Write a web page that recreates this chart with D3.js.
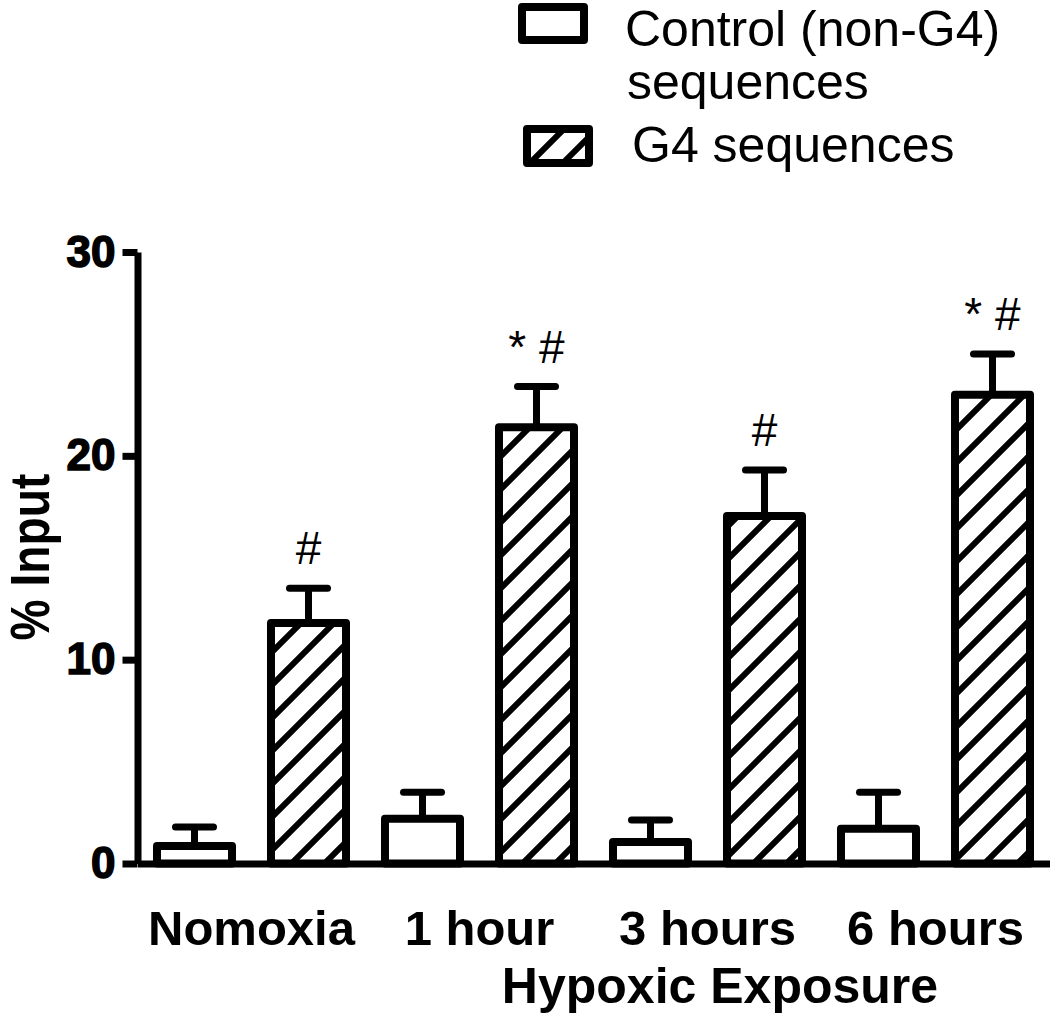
<!DOCTYPE html>
<html>
<head>
<meta charset="utf-8">
<script src="https://cdn.jsdelivr.net/npm/d3@7"></script>
<style>
  body { margin: 0; background: #fff; }
  svg { display: block; }
  text { font-family: "Liberation Sans", Arial, sans-serif; fill: #000; }
</style>
</head>
<body>
<svg id="chart" width="1050" height="1018"></svg>
<script>
// values
const categories = ["Nomoxia", "1 hour", "3 hours", "6 hours"]
const seriesKeys = ["control", "g4"]
const controlMean = [0.86, 2.2, 1.05, 1.7]
const controlErr = [0.93, 1.3, 1.08, 1.8]
const g4Mean = [11.8, 21.4, 17.05, 23.0]
const g4Err = [1.7, 2.0, 2.25, 2.0]
const g4Marks = ["#", "* #", "#", "* #"]
const yTicks = [0, 10, 20, 30]

const svg = d3.select("#chart")
const black = "#000"

// layout
const axisX = 137.5
const baseY = 863.5
const topY = 252

// hatch pattern for the G4 bars
const defs = svg.append("defs")
const pat = defs.append("pattern")
    .attr("id", "hatch")
    .attr("patternUnits", "userSpaceOnUse")
    .attr("width", 33)
    .attr("height", 33)
pat.append("rect").attr("width", 33).attr("height", 33).attr("fill", "#fff")
pat.append("path")
    .attr("d", "M0,33 L33,0 M-8,8 L8,-8 M25,41 L41,25")
    .attr("stroke", black)
    .attr("stroke-width", 6)

// scales
const x0 = d3.scaleBand()
    .domain(categories)
    .range([axisX, axisX + 4 * 228])
    .paddingInner(0)
const x1 = d3.scaleBand()
    .domain(seriesKeys)
    .range([0, x0.bandwidth()])
    .paddingInner(0.342)
    .paddingOuter(0.171)
const y = d3.scaleLinear().domain([0, 30]).range([baseY, topY])

// build rows from the arrays
const rows = []
categories.forEach((c, i) => {
    rows.push({ cat: c, key: "control", mean: controlMean[i], err: controlErr[i], mark: "" })
    rows.push({ cat: c, key: "g4", mean: g4Mean[i], err: g4Err[i], mark: g4Marks[i] })
})

// bars
const bars = svg.append("g")
bars.selectAll("rect").data(rows).enter().append("rect")
    .attr("x", d => x0(d.cat) + x1(d.key))
    .attr("y", d => y(d.mean))
    .attr("width", x1.bandwidth())
    .attr("height", d => y(0) - y(d.mean))
    .attr("fill", d => d.key == "g4" ? "url(#hatch)" : "#fff")
    .attr("stroke", black)
    .attr("stroke-width", 8)
    .attr("stroke-linejoin", "round")

// error bars (upper only)
const errs = svg.append("g").attr("stroke", black).attr("stroke-width", 7)
rows.forEach(d => {
    const cx = x0(d.cat) + x1(d.key) + x1.bandwidth() / 2
    errs.append("line")
        .attr("x1", cx).attr("x2", cx)
        .attr("y1", y(d.mean)).attr("y2", y(d.mean + d.err))
    errs.append("line")
        .attr("x1", cx - 19).attr("x2", cx + 19)
        .attr("y1", y(d.mean + d.err)).attr("y2", y(d.mean + d.err))
        .attr("stroke-linecap", "round")
})

// significance marks
svg.append("g").selectAll("text").data(rows.filter(d => d.mark)).enter().append("text")
    .attr("x", d => x0(d.cat) + x1(d.key) + x1.bandwidth() / 2)
    .attr("y", d => y(d.mean + d.err) - 24)
    .attr("text-anchor", "middle")
    .attr("font-size", 46)
    .text(d => d.mark)

// y axis
const yAxis = d3.axisLeft(y).tickValues(yTicks).tickSize(15).tickSizeOuter(0).tickPadding(7)
const yG = svg.append("g")
    .attr("transform", `translate(${axisX},0)`)
    .call(yAxis)
yG.select(".domain").attr("stroke", black).attr("stroke-width", 7)
yG.selectAll(".tick line").attr("stroke", black).attr("stroke-width", 7)
yG.selectAll(".tick text")
    .attr("font-family", "'Liberation Sans Narrow', 'Liberation Sans', Arial, sans-serif")
    .attr("font-size", 44)
    .attr("font-weight", "bold")
    .attr("stroke", black)
    .attr("stroke-width", 1.5)
    .attr("fill", black)

// x axis
const xAxis = d3.axisBottom(x0).tickSize(0).tickSizeOuter(0).tickPadding(47)
const xG = svg.append("g")
    .attr("transform", `translate(0,${baseY})`)
    .call(xAxis)
xG.select(".domain").attr("stroke", black).attr("stroke-width", 7)
xG.selectAll(".tick text")
    .attr("font-family", "'Liberation Sans', Arial, sans-serif")
    .attr("font-size", 49)
    .attr("font-weight", "bold")
    .attr("fill", black)

// axis titles
svg.append("text")
    .attr("transform", "translate(49,557) rotate(-90) scale(0.84,1)")
    .attr("text-anchor", "middle")
    .attr("font-size", 55)
    .attr("font-weight", "bold")
    .text("% Input")
svg.append("text")
    .attr("x", 720)
    .attr("y", 1003)
    .attr("text-anchor", "middle")
    .attr("font-size", 50)
    .attr("font-weight", "bold")
    .text("Hypoxic Exposure")

// legend
const leg = svg.append("g")
leg.append("rect")
    .attr("x", 522).attr("y", 7).attr("width", 62).attr("height", 33)
    .attr("fill", "#fff").attr("stroke", black).attr("stroke-width", 8).attr("stroke-linejoin", "round")
leg.append("text").attr("x", 625).attr("y", 46).attr("font-size", 50).text("Control (non-G4)")
leg.append("text").attr("x", 627).attr("y", 99).attr("font-size", 50).text("sequences")
leg.append("rect")
    .attr("x", 527).attr("y", 129).attr("width", 62).attr("height", 34)
    .attr("fill", "url(#hatch)").attr("stroke", black).attr("stroke-width", 8).attr("stroke-linejoin", "round")
leg.append("text").attr("x", 632).attr("y", 162).attr("font-size", 50).text("G4 sequences")
</script>
</body>
</html>
